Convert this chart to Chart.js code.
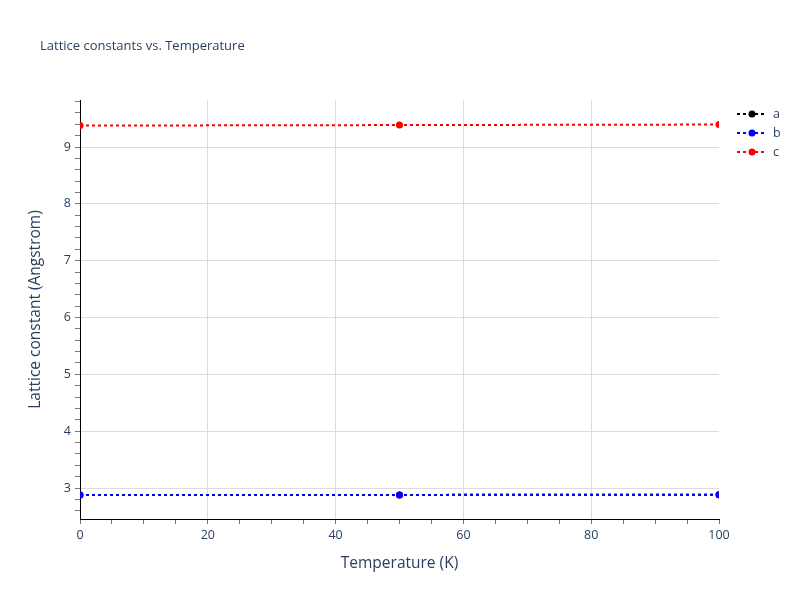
<!DOCTYPE html>
<html>
<head>
<meta charset="utf-8">
<title>Lattice constants vs. Temperature</title>
<script src="https://cdn.jsdelivr.net/npm/chart.js@4/dist/chart.umd.min.js"></script>
<style>
  html, body { margin: 0; padding: 0; background: #fff; }
  canvas { display: block; }
</style>
</head>
<body>
<canvas id="latticeChart" width="800" height="600"></canvas>
<script>
// values
const temperatures = [0, 50, 100];
const latticeA = [2.877, 2.879, 2.882];
const latticeB = [2.877, 2.879, 2.882];
const latticeC = [9.377, 9.386, 9.395];

const seriesNames = ["a", "b", "c"];
const seriesColors = ["#000000", "#0000ff", "#ff0000"];

const xMajorTicks = [0, 20, 40, 60, 80, 100];
const yMajorTicks = [3, 4, 5, 6, 7, 8, 9];

const FONT = "'Open Sans', 'Noto Sans', sans-serif";
const TEXT = "#2a3f5f";
const GRID = "#dcdcdc";

function points(ys) {
  return temperatures.map((t, i) => ({ x: t, y: ys[i] }));
}

function lineSet(i, ys, order) {
  return {
    label: seriesNames[i],
    data: points(ys),
    borderColor: seriesColors[i],
    backgroundColor: seriesColors[i],
    borderWidth: 2,
    borderDash: [3, 3],
    pointRadius: 3.5,
    pointHoverRadius: 3.5,
    pointBorderWidth: 0,
    tension: 0,
    order: order
  };
}

const isMajor = (v, list) => list.some(m => Math.abs(m - v) < 1e-6);

// title + legend drawn by hand, plotly-style
const decorations = {
  id: "decorations",
  afterDraw(chart) {
    const ctx = chart.ctx;
    ctx.save();
    ctx.fillStyle = TEXT;
    ctx.font = "13px " + FONT;
    ctx.textBaseline = "middle";
    ctx.textAlign = "left";
    ctx.fillText("Lattice constants vs. Temperature", 40, 46);

    ctx.font = "12.5px " + FONT;
    seriesNames.forEach((name, i) => {
      const y = 114 + i * 19;
      ctx.strokeStyle = seriesColors[i];
      ctx.lineWidth = 2;
      ctx.setLineDash([3, 3]);
      ctx.beginPath();
      ctx.moveTo(737, y);
      ctx.lineTo(767, y);
      ctx.stroke();
      ctx.setLineDash([]);
      ctx.fillStyle = seriesColors[i];
      ctx.beginPath();
      ctx.arc(752, y, 3.5, 0, Math.PI * 2);
      ctx.fill();
      ctx.fillStyle = TEXT;
      ctx.fillText(name, 773, y);
    });
    ctx.restore();
  }
};

new Chart(document.getElementById("latticeChart"), {
  type: "line",
  data: {
    datasets: [
      lineSet(0, latticeA, 3),
      lineSet(1, latticeB, 2),
      lineSet(2, latticeC, 1)
    ]
  },
  options: {
    responsive: false,
    animation: false,
    devicePixelRatio: 1,
    layout: { padding: { top: 100, right: 81, bottom: 0, left: 0 } },
    plugins: {
      legend: { display: false },
      title: { display: false },
      tooltip: { enabled: false }
    },
    scales: {
      x: {
        type: "linear",
        min: 0,
        max: 100,
        afterFit(s) { s.height = 81; },
        afterBuildTicks(s) {
          const t = [];
          for (let k = 0; k <= 20; k++) t.push({ value: k * 5 });
          s.ticks = t;
        },
        ticks: {
          autoSkip: false,
          maxRotation: 0,
          padding: 4,
          color: TEXT,
          font: { family: FONT, size: 12.5 },
          callback: v => isMajor(v, xMajorTicks) ? String(v) : ""
        },
        grid: {
          color: c => (isMajor(c.tick.value, xMajorTicks) && c.tick.value > 0 && c.tick.value < 100) ? GRID : "rgba(0,0,0,0)",
          lineWidth: 1,
          tickLength: 5,
          tickColor: "#777777",
          drawTicks: true
        },
        border: { color: "#000000", width: 1 },
        title: {
          display: true,
          text: "Temperature (K)",
          color: TEXT,
          font: { family: FONT, size: 15.5 },
          padding: { top: 0, bottom: 27 }
        }
      },
      y: {
        type: "linear",
        min: 2.455,
        max: 9.827,
        afterFit(s) { s.width = 80; },
        afterBuildTicks(s) {
          const t = [];
          for (let k = 13; k <= 49; k++) t.push({ value: k / 5 });
          s.ticks = t;
        },
        ticks: {
          autoSkip: false,
          padding: 4,
          color: TEXT,
          font: { family: FONT, size: 12.5 },
          callback: v => isMajor(v, yMajorTicks) ? String(Math.round(v)) : ""
        },
        grid: {
          color: c => isMajor(c.tick.value, yMajorTicks) ? GRID : "rgba(0,0,0,0)",
          lineWidth: 1,
          tickLength: 5,
          tickColor: "#777777",
          drawTicks: true
        },
        border: { color: "#000000", width: 1 },
        title: {
          display: true,
          text: "Lattice constant (Angstrom)",
          color: TEXT,
          font: { family: FONT, size: 15.5 },
          padding: { top: 26, bottom: 0 }
        }
      }
    }
  },
  plugins: [decorations]
});
</script>
</body>
</html>
